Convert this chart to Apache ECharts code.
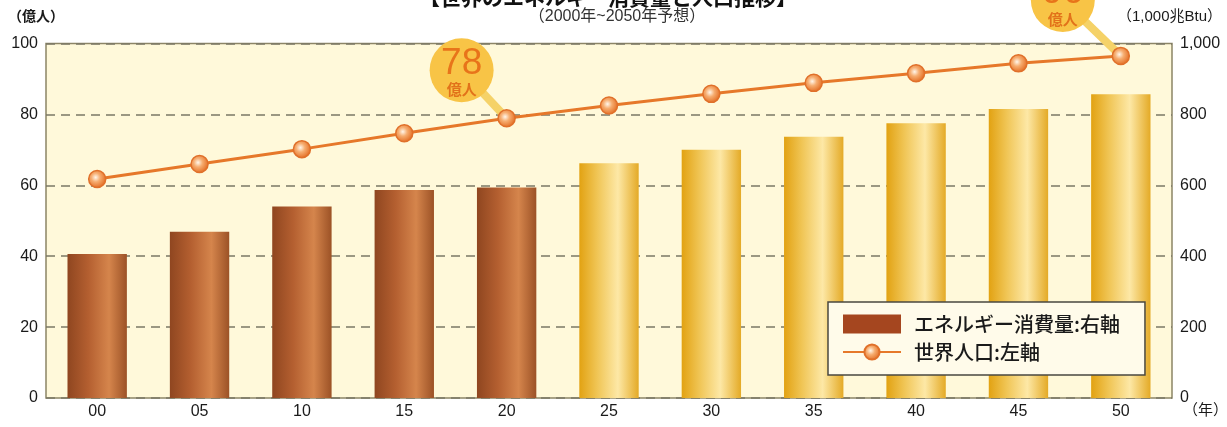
<!DOCTYPE html>
<html><head><meta charset="utf-8">
<script src="https://cdn.jsdelivr.net/npm/echarts@6/dist/echarts.min.js"></script>
<style>html,body{margin:0;padding:0;background:#fff}#c{width:1227px;height:427px}</style>
</head><body><div id="c"></div>
<script>
// ---- data ----
const years = ['00','05','10','15','20','25','30','35','40','45','50'];
const energy = [406, 469, 540, 587, 594, 662, 700, 737, 775, 815, 857];      // 1,000兆Btu (right axis)
const population = [61.8, 66, 70.2, 74.7, 78.9, 82.5, 85.8, 88.9, 91.6, 94.4, 96.5]; // 億人 (left axis)
const forecastStart = 5;  // index of first forecast year (2025)
const calloutIdx = [4, 10];
const calloutText = ['78', '96'];
const leftMax = 100, leftStep = 20;
const rightMax = 1000, rightStep = 200;

const FONT = '"Liberation Sans", "Noto Sans CJK JP", sans-serif';
const JP = '"Noto Sans CJK JP", "Liberation Sans", sans-serif';

const brownGrad = {type:'linear',x:0,y:0,x2:1,y2:0,colorStops:[
  {offset:0,color:'#8f4620'},{offset:0.35,color:'#b45f30'},{offset:0.7,color:'#d5854c'},{offset:1,color:'#9c5226'}]};
const goldGrad = {type:'linear',x:0,y:0,x2:1,y2:0,colorStops:[
  {offset:0,color:'#e2a212'},{offset:0.3,color:'#f0c555'},{offset:0.65,color:'#fde8a6'},{offset:1,color:'#e4aa26'}]};
const markerGrad = {type:'radial',x:0.42,y:0.42,r:0.6,colorStops:[
  {offset:0,color:'#fff6ea'},{offset:0.4,color:'#f6ad70'},{offset:1,color:'#e2691e'}]};

const chart = echarts.init(document.getElementById('c'));
chart.setOption({
  animation:false,
  textStyle:{fontFamily:FONT},
  grid:{left:46,right:55,top:43.5,bottom:29,show:true,backgroundColor:'#fff9da',borderColor:'#8c8566',borderWidth:1.5},
  xAxis:{type:'category',data:years,boundaryGap:true,
    axisLine:{show:false},axisTick:{show:false},
    axisLabel:{color:'#1a1a1a',fontSize:16,margin:6,fontFamily:FONT}},
  yAxis:[
    {type:'value',min:0,max:leftMax,interval:leftStep,
     axisLine:{show:false},axisTick:{show:false},
     axisLabel:{color:'#1a1a1a',fontSize:16,margin:8,fontFamily:FONT},
     splitLine:{show:true,lineStyle:{color:'#7b7866',width:1.5,type:[9,6]}}},
    {type:'value',min:0,max:rightMax,interval:rightStep,position:'right',
     axisLine:{show:false},axisTick:{show:false},splitLine:{show:false},
     axisLabel:{color:'#1a1a1a',fontSize:16,margin:8,fontFamily:FONT,
       formatter:v=>v.toLocaleString('en-US')}}
  ],
  legend:{orient:'vertical',left:828,top:302,padding:[12,25,13,14],itemGap:8,
    itemWidth:58,itemHeight:19,backgroundColor:'#fffbea',borderColor:'#4a4840',borderWidth:1.5,
    textStyle:{fontSize:20,fontWeight:500,color:'#1a1a1a',fontFamily:JP,padding:[0,0,0,8]},
    data:[{name:'エネルギー消費量:右軸',icon:'rect'},{name:'世界人口:左軸'}]},
  series:[
    {name:'エネルギー消費量:右軸',type:'bar',yAxisIndex:1,barWidth:'58%',
     itemStyle:{color:'#a5461f'},
     data:energy.map((v,i)=>({value:v,itemStyle:{color:i<forecastStart?brownGrad:goldGrad}}))},
    {name:'世界人口:左軸',type:'line',yAxisIndex:0,z:20,data:population,
     symbol:'circle',symbolSize:17,
     lineStyle:{color:'#e6782a',width:3},
     itemStyle:{color:markerGrad,borderColor:'#e0702a',borderWidth:1.5}}
  ]
});

// ---- callouts and texts positioned from library scales ----
const offsets = [[-45,-48],[-58,-56]];
const g = [];
calloutIdx.forEach((idx,k)=>{
  const p = chart.convertToPixel({seriesIndex:1},[idx,population[idx]]);
  const cx = p[0]+offsets[k][0], cy = p[1]+offsets[k][1];
  g.push({type:'line',z:9,shape:{x1:cx,y1:cy,x2:p[0],y2:p[1]},style:{stroke:'#f5d268',lineWidth:8}});
  g.push({type:'circle',z:10,shape:{cx:cx,cy:cy,r:32},style:{fill:'#f8c446'}});
  g.push({type:'text',z:11,x:cx,y:cy-7,style:{text:calloutText[k],fill:'#e8741a',font:'37px "Liberation Sans", sans-serif',align:'center',verticalAlign:'middle'}});
  g.push({type:'text',z:11,x:cx,y:cy+19,style:{text:'億人',fill:'#e2721a',font:'bold 15px "Noto Sans CJK JP", sans-serif',align:'center',verticalAlign:'middle'}});
});
g.push({type:'text',z:12,x:608,y:-3,style:{text:'【世界のエネルギー消費量と人口推移】',fill:'#111',font:'bold 21px "Noto Sans CJK JP", sans-serif',align:'center',verticalAlign:'middle'}});
g.push({type:'text',z:12,x:617,y:17,style:{text:'（2000年~2050年予想）',fill:'#333',font:'16px "Liberation Sans", "Noto Sans CJK JP", sans-serif',align:'center',verticalAlign:'middle'}});
g.push({type:'text',z:12,x:8,y:17,style:{text:'（億人）',fill:'#1a1a1a',font:'bold 14px "Liberation Sans", "Noto Sans CJK JP", sans-serif',align:'left',verticalAlign:'middle'}});
g.push({type:'text',z:12,x:1222,y:17,style:{text:'（1,000兆Btu）',fill:'#1a1a1a',font:'15px "Liberation Sans", "Noto Sans CJK JP", sans-serif',align:'right',verticalAlign:'middle'}});
g.push({type:'text',z:12,x:1183,y:411,style:{text:'（年）',fill:'#1a1a1a',font:'15px "Liberation Sans", "Noto Sans CJK JP", sans-serif',align:'left',verticalAlign:'middle'}});
chart.setOption({graphic:g});
</script></body></html>
